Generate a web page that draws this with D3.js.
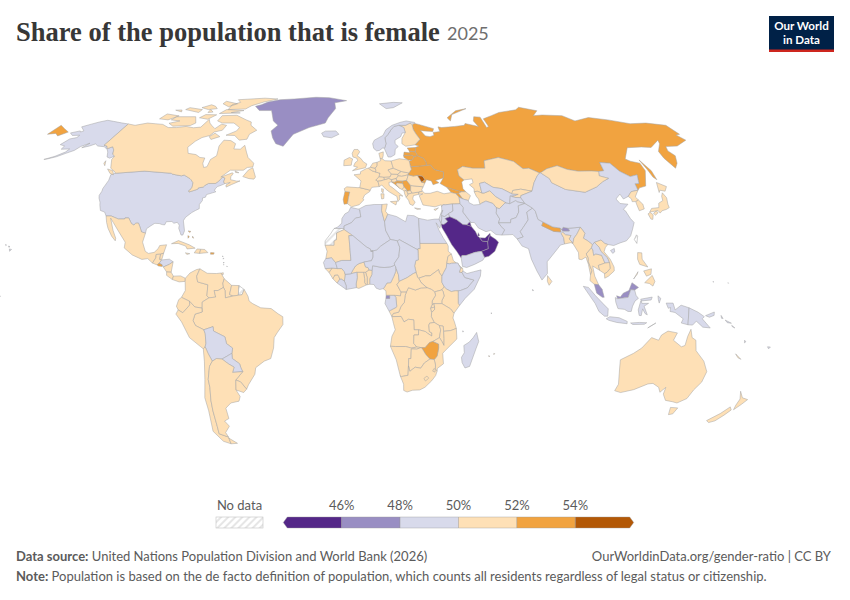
<!DOCTYPE html>
<html><head><meta charset="utf-8"><script src="https://cdn.jsdelivr.net/npm/d3@7"></script>
<style>html,body{margin:0;padding:0;background:#fff}svg{display:block}text{font-family:Lato,sans-serif}</style></head><body>
<svg id="c" width="850" height="600"></svg>
<script>
const titleText="Share of the population that is female", yearText="2025";
const legendBreaks=[46,48,50,52,54];
const legendColors=["#542788","#998ec3","#d8daeb","#fee0b6","#f1a340","#b35806"];
const shares={
Greenland:47.5,USA:49.6,Alaska:49.6,Hawaii:49.6,Canada:50.2,Mexico:51,Guatemala:51,Belize:50.2,Honduras:49.9,Salvador:52.8,Nicaragua:50.8,CostaRica:50.1,Panama:50.1,Cuba:50.2,Haiti:50.6,DR:50.1,Jamaica:50.5,PuertoRico:52.7,Bahamas:52.2,Trinidad:50.6,Antilles:49.8,Barbados:49.8,
Colombia:51,Venezuela:50.5,Guyana:50.2,Suriname:50.2,FrenchGuiana:null,Brazil:51,Ecuador:50.2,Peru:50.5,Bolivia:49.8,Paraguay:49.6,Chile:50.5,Argentina:50.8,Uruguay:51.5,
Iceland:49.2,Ireland:50.3,UK:50.6,Portugal:52.2,Spain:50.8,France:51.5,Belgium:50.5,Netherlands:50.2,Germany:50.6,Switzerland:50.2,Italy:51.2,Austria:50.7,Czechia:50.7,Slovakia:51,Hungary:51.9,Slovenia:50.1,Croatia:52.1,Bosnia:51,Serbia:52.1,Montenegro:50.8,Albania:50.7,Macedonia:50.1,Greece:51,Bulgaria:51.6,Romania:51.4,Moldova:54.4,Ukraine:53.5,Belarus:53.3,Poland:51.6,Lithuania:53,Latvia:53.5,Estonia:52.3,Finland:50.6,Sweden:49.9,Norway:49.7,Denmark:50.2,
Russia:53.6,Chukotka:53.6,NovayaZemlya:53.6,Sakhalin:53.6,Kazakhstan:51,Turkmenistan:50.7,Uzbekistan:49.9,Kyrgyzstan:50.2,Tajikistan:49.8,Georgia:52.9,Armenia:52.5,Azerbaijan:50.2,Turkey:50.1,Cyprus:50.1,
Israel:49.9,Jordan:48.8,Lebanon:49.8,Syria:49.9,Iraq:49.5,Iran:49.3,Kuwait:44,Saudi:42,Yemen:49.5,Oman:40,UAE:35,Qatar:30,
Afghanistan:49.8,Pakistan:49.3,India:48.6,Bangladesh:50.5,Nepal:53,Bhutan:47,China:48.9,Hainan:48.9,Mongolia:50.6,NKorea:51,SKorea:50.1,Honshu:51.2,Hokkaido:51.2,Kyushu:51.2,Shikoku:51.2,Taiwan:null,SriLanka:51.7,
Myanmar:51.5,Thailand:51.6,Laos:49.8,Vietnam:50.3,Cambodia:51,Malaya:47.5,MalayBorneo:47.5,IndoBorneo:49.6,Sumatra:49.6,Java:49.6,Sulawesi:49.6,Timor:49.6,Flores:49.6,Halmahera:49.6,Papua:49.6,PNG:49.3,NewBritain:49.3,Solomon:49.2,Luzon:50,Mindanao:50,Palawan:50,Visayas:50,
Australia:50.3,Tasmania:50.3,NZNorth:50.5,NZSouth:50.5,NewCaledonia:50,Fiji:49.5,Vanuatu:49.5,Kiritimati:49.8,Micronesia:49.8,Maldives:49.6,Seychelles:49,Comoros:49.8,Mauritius:50.5,Reunion:51,
Morocco:49.9,WesternSahara:null,Algeria:49.2,Tunisia:50.4,Libya:49.3,Egypt:49.5,Sudan:50.2,SouthSudan:50.2,Eritrea:50.3,Ethiopia:49.9,Djibouti:51,Somalia:49.9,Kenya:50.4,Uganda:50.8,Rwanda:51.2,Burundi:50.7,Tanzania:50.3,DRC:50.2,Congo:50.1,Gabon:49,EqGuinea:47,Cameroon:50.1,Nigeria:49.5,Benin:50.4,Togo:50.3,Ghana:50.3,Burkina:50.4,Ivory:49.2,Liberia:49.8,SierraLeone:50.2,Guinea:50.5,GuineaBissau:50.9,Senegal:49.6,Mauritania:50.8,Mali:49.9,Niger:49.8,Chad:49.9,CAR:50.2,Angola:50.7,Zambia:50.4,Malawi:51,Mozambique:51.3,Zimbabwe:52.6,Namibia:51,Botswana:51,SouthAfrica:51,Lesotho:50.6,Eswatini:51,Madagascar:49.9
};
const outlines={
Russia:[[30.8,69.8],[33,69.4],[41,67.5],[40,66.2],[35,66.5],[33,66.7],[35,64.3],[37.5,64],[40,64.6],[40,65.8],[44,66.2],[44,68.3],[46,68],[54,68.5],[60,69],[61,69.8],[68,68.5],[67,71],[69,73],[72.8,72.8],[72.5,68],[74,68.5],[74,72],[80.5,73.5],[87,75],[100,76.4],[104,77.7],[113,75.9],[107,73.5],[113,73.8],[125,73.5],[129,71],[140,72.6],[150,71.5],[160,69.7],[170,70],[180,69],[180,65],[177.5,64.7],[179,62.5],[170,60],[163.5,59.8],[162,58],[163,56],[160,53],[156.8,51],[155.7,55],[156.7,57.8],[162,61],[163.5,62.5],[155,59.4],[150,59.6],[142,59.3],[135.3,54.7],[137,53.8],[141,53],[140.5,50],[135.5,44],[132,43.3],[130.6,42.4],[131,44.9],[133,45],[135,48.4],[131,47.7],[127.5,49.8],[125.7,53],[120.8,53.3],[119.8,50],[117,49.7],[113.5,49.9],[107,49.8],[102,50.5],[98,52],[92,50.8],[87.8,49.2],[87.3,49.1],[83,51],[80,50.8],[77,53.7],[70,55.3],[62,54],[61,51],[55,51],[50,51.7],[47,50.4],[47,48],[49,46.4],[47.6,45.6],[47.5,43],[48.5,41.8],[46.5,41.8],[43.5,42.5],[40,43.4],[37,45],[39,47.1],[39.8,49.5],[35.5,50.4],[34,52.3],[31.8,52.1],[32,53.5],[31,55],[28.2,56],[27.5,57.6],[28,59.4],[30,60],[28,60.5],[31.5,62.9],[30,65],[29,67],[29,69.2]],
Chukotka:[[-180,69],[-175,67.5],[-170,66],[-173,64.3],[-176,65.4],[-180,65]],
NovayaZemlya:[[53,71],[56,74],[68,77],[60,75.9],[52,72.5]],
Sakhalin:[[142,54.3],[143.5,50],[143,46.5],[142,47.5],[142,50.5]],
USA:[[-124.7,48.4],[-123,49],[-95.2,49],[-94.6,48.7],[-92,48.3],[-89.6,48],[-88.4,48.3],[-84.8,46.9],[-84.1,46.5],[-82.5,45.3],[-82.1,43.6],[-82.5,42.6],[-83.1,42.2],[-82.7,41.7],[-79,42.8],[-79,43.3],[-76.8,43.6],[-76.3,44.2],[-74.9,45],[-71.5,45],[-70.3,45.9],[-69.2,47.45],[-68.3,47.3],[-67.8,47.1],[-67.8,45.7],[-67,44.9],[-68.5,44.3],[-70,43.8],[-70.7,43],[-70.9,42.3],[-70,41.8],[-71.4,41.4],[-74,40.7],[-74.1,39.7],[-75.4,39.4],[-75.1,38.4],[-76,36.9],[-75.5,35.3],[-77,34.6],[-78.5,33.8],[-80.8,32],[-81.4,30.7],[-80.5,28.3],[-80,26.8],[-80.4,25.2],[-81.2,25.2],[-81.8,26.2],[-82.8,27.8],[-82.8,29],[-84,30.1],[-85.4,29.7],[-86.5,30.4],[-89,30.3],[-89.4,29.1],[-90.5,29.2],[-92,29.6],[-94,29.7],[-95.5,28.8],[-97.2,27.6],[-97.2,25.95],[-99.1,26.4],[-100.3,28.3],[-101.4,29.8],[-102.7,29.7],[-103.2,29],[-104.5,29.6],[-106.5,31.75],[-108.2,31.75],[-108.2,31.33],[-111,31.33],[-114.8,32.5],[-117.1,32.5],[-118.4,34],[-120.6,34.6],[-121.9,36.6],[-122.5,37.8],[-123.8,39.3],[-124.4,40.4],[-124.2,42],[-124.5,43],[-124,46.2]],
Alaska:[[-141,69.6],[-141,60.3],[-139,60],[-137.5,58.9],[-135.5,59.7],[-133.4,58.4],[-131.8,56.6],[-130,55.9],[-131.5,55],[-133.5,55.5],[-135.5,57.5],[-137,58.5],[-140,59.7],[-144,60],[-146.5,60.9],[-148.5,60],[-151.7,59.3],[-150,61.2],[-153,59.8],[-154.2,58.2],[-157,57],[-160,55.6],[-163.5,54.7],[-165,54.5],[-161,55.8],[-158,57.5],[-157.5,58.8],[-161.9,58.7],[-162,60],[-165.3,60.6],[-164,63],[-161,63.6],[-161,64.6],[-165,64.5],[-168,65.6],[-164,66.5],[-163,66],[-161.9,66.5],[-166.5,68.3],[-163,69.5],[-160,70.5],[-156.6,71.3],[-152,70.8],[-146,70.1]],
Hawaii:[[[-156,19.9],[-155,19.7],[-155.7,19]],[[-158.2,21.6],[-157.7,21.4],[-158,21.2]],[[-156.7,21],[-156,20.8],[-156.4,20.5]]],
Canada:[
[[-141,69.6],[-136,69],[-130,70],[-125,69.7],[-120,69.4],[-115,68],[-110,68],[-105,68.5],[-100,67.9],[-96,68.2],[-95,71.8],[-92.5,70],[-90,68.8],[-87,67.5],[-85,69.5],[-81.5,69],[-82,66.8],[-86,66],[-87,64.5],[-90.7,63.6],[-93,62],[-94.8,59.5],[-92.5,57],[-88,56.5],[-85,55.3],[-82.3,55.1],[-82,53],[-80.5,51.3],[-79,51.6],[-79,54.5],[-76.8,56],[-77.5,58],[-78.3,60],[-77.5,62.5],[-73.5,62.3],[-70,61],[-69.5,58.8],[-66,58.7],[-64.5,60.3],[-62,57.5],[-60,55.3],[-56,53],[-55.8,51.5],[-58.5,51.3],[-60,50.2],[-66.5,50.2],[-70,47.5],[-65,49.2],[-64.4,48.7],[-65.2,47.8],[-64.8,46.5],[-61.5,45.9],[-60,46],[-63.5,44.6],[-65.8,43.6],[-66.2,44.4],[-64.5,45.4],[-67,44.9],[-67.8,45.7],[-67.8,47.1],[-68.3,47.3],[-69.2,47.45],[-70.3,45.9],[-71.5,45],[-74.9,45],[-76.3,44.2],[-76.8,43.6],[-79,43.3],[-79,42.8],[-82.7,41.7],[-83.1,42.2],[-82.5,42.6],[-82.1,43.6],[-82.5,45.3],[-84.1,46.5],[-84.8,46.9],[-88.4,48.3],[-89.6,48],[-92,48.3],[-94.6,48.7],[-95.2,49],[-123,49],[-123.5,49.5],[-127,51],[-130,54.5],[-130,55.9],[-131.8,56.6],[-133.4,58.4],[-135.5,59.7],[-137.5,58.9],[-139,60],[-141,60.3]],
[[-80,73.7],[-72,71.5],[-68,70.5],[-67,69],[-62,66.8],[-65,65],[-65,62.9],[-69,62.5],[-73,64.5],[-78,64.6],[-73.5,66.5],[-73,68],[-78,70],[-85,70],[-89,71],[-89,73.5]],
[[-117,73],[-105,73],[-101,70],[-103,68.9],[-113,68.6],[-117,69.9],[-112,71],[-118,71.5]],
[[-125,74.3],[-116,73.4],[-120,71.5],[-126,72]],
[[-90,76.5],[-78,76],[-85,75],[-79,74.8],[-92,74.5]],
[[-90,82],[-72,83],[-62,82.5],[-70,80.5],[-76,78.5],[-78,76.8],[-89,76.5],[-90,79],[-86,80.3]],
[[-97,81],[-87,79.5],[-91,78],[-97,79.5]],
[[-117,76.5],[-106,75],[-106,76.5],[-116,77.5]],
[[-100,74],[-93,73.9],[-96,71.8],[-102,72.5]],
[[-85,65.5],[-81,64],[-85,62.8],[-87,64]],
[[-55.7,51.2],[-53,47.5],[-53.5,46.7],[-56,46.9],[-59.3,47.7],[-57.5,50.3]],
[[-128.3,50.7],[-125,50],[-123.4,48.4],[-125.5,48.9]],
[[-132.5,54],[-131.7,53],[-131,52],[-132.5,53]],
[[-64,49.9],[-61.8,49.2],[-63.5,49.3]],
[[-123,76.2],[-117.5,75.3],[-119,76.3]],
[[-104,79],[-100,78.2],[-97,77],[-102,76.5],[-108,77.5]],
[[-100.5,76.5],[-97,75.2],[-100,75]]],
Greenland:[[-73,78.2],[-68,76],[-60,76],[-55,71],[-51,69],[-53.5,66.5],[-51,63.5],[-48,61],[-43.5,59.9],[-40,65],[-32,68],[-23,70],[-22,72.5],[-20,75],[-18.5,77],[-20,80],[-12,81.4],[-25,83.3],[-35,83.6],[-50,82.5],[-60,82],[-67,80.5],[-70,79]],
Mexico:[[-117.1,32.5],[-114.8,32.5],[-111,31.33],[-108.2,31.33],[-108.2,31.75],[-106.5,31.75],[-104.5,29.6],[-103.2,29],[-102.7,29.7],[-101.4,29.8],[-100.3,28.3],[-99.1,26.4],[-97.2,25.95],[-97.8,22.5],[-96,19],[-94.5,18.2],[-92,18.6],[-90.5,20],[-90,21.2],[-87,21.5],[-87.8,18.3],[-89.1,17.9],[-91,17.8],[-91,16.5],[-92.2,14.5],[-94.5,16.2],[-97,15.9],[-101.5,17.6],[-105.5,20.3],[-105.5,22.5],[-109.5,26.7],[-112.8,30],[-114.7,31.7],[-112,27],[-110,24],[-110,23],[-112,24.8],[-114.5,27.8],[-115.8,30]],
Guatemala:[[-92.2,14.5],[-91,16.5],[-91,17.8],[-89.1,17.9],[-89.2,15.9],[-88.3,15.7],[-89.3,14.4],[-90.1,13.8]],
Belize:[[-89.1,17.9],[-87.8,18.3],[-88.3,15.9],[-89.2,15.9]],
Honduras:[[-89.3,14.4],[-88.3,15.7],[-85,16],[-83.2,15],[-84.8,14],[-87.3,13],[-88,13.9]],
Salvador:[[-90.1,13.8],[-89.3,14.4],[-88,13.9],[-87.8,13.2],[-89.5,13.4]],
Nicaragua:[[-87.3,13],[-84.8,14],[-83.2,15],[-83.7,11],[-85.7,11.1]],
CostaRica:[[-85.7,11.1],[-83.7,11],[-82.6,9.5],[-83,8.2],[-85.6,9.8]],
Panama:[[-82.6,9.5],[-79.5,9.6],[-77.4,8.7],[-77.4,7.5],[-80,7.3],[-83,8.2]],
Cuba:[[-84.9,21.9],[-82,23.1],[-77,21.5],[-74.2,20.2],[-77.7,19.9],[-78.5,21],[-82,22]],
Haiti:[[-74.4,18.4],[-72,18.2],[-71.7,19.8],[-73.3,19.9]],
DR:[[-71.7,19.8],[-72,18.2],[-68.4,18.5],[-69.9,19.7]],
Jamaica:[[-78.3,18.4],[-76.3,18.1],[-77.5,17.8]],
PuertoRico:[[-67.2,18.5],[-65.6,18.4],[-65.8,17.9],[-67.2,17.9]],
Bahamas:[[[-78.4,26.8],[-77.1,26.6],[-77.5,26.2]],[[-78.1,25],[-77.4,24.6],[-77.9,24]],[[-76,24.8],[-75.4,24],[-75.9,24.2]]],
Trinidad:[[-61.9,10.7],[-61,10.8],[-61,10.1],[-61.9,10.1]],
Antilles:[[[-61.9,17.2],[-61.6,17.2],[-61.7,16.9]],[[-61.5,16.4],[-61.2,16.3],[-61.4,16]],[[-61.1,14.9],[-60.9,14.6],[-61.2,14.5]],[[-61.1,14],[-60.9,13.9],[-61,13.7]]],
Barbados:[[-59.7,13.3],[-59.4,13.2],[-59.5,13]],
Colombia:[[-77.4,8.7],[-75.5,10.7],[-72.8,12],[-71.3,12.3],[-72.5,9.5],[-72,7.3],[-67.5,6.2],[-67.8,2],[-66.9,1.2],[-69.8,-0.4],[-69.9,-4.2],[-70,-2.7],[-73,-2.3],[-75.3,-0.1],[-78.8,1.4],[-77.2,4],[-77.4,7.5]],
Venezuela:[[-71.3,12.3],[-68,10.6],[-64,10.5],[-62,10.7],[-60.5,8.5],[-61,6.8],[-60.7,5.2],[-63,4],[-64.7,4],[-64,1.5],[-66.9,1.2],[-67.8,2],[-67.5,6.2],[-72,7.3],[-72.5,9.5]],
Guyana:[[-60.5,8.5],[-57.2,6],[-58,2.5],[-56.5,1.9],[-59.8,1.2],[-60,4],[-60.7,5.2],[-61,6.8]],
Suriname:[[-57.2,6],[-54,5.9],[-54.2,2.2],[-56.5,1.9],[-58,2.5]],
FrenchGuiana:[[-54,5.9],[-51.7,4.4],[-52.6,2.4],[-54.2,2.2]],
Brazil:[[-51.7,4.4],[-50,1.8],[-49.5,0],[-48,-1],[-44.5,-2.6],[-40,-2.9],[-37,-4.9],[-35,-6],[-35,-9],[-37.5,-12],[-39,-14],[-39.5,-18],[-41,-22],[-44,-23],[-48,-25.5],[-48.7,-28],[-52.2,-32],[-53.4,-33.7],[-55.6,-30.9],[-57.6,-30.2],[-54,-27],[-54.6,-25.6],[-55,-24],[-58,-22],[-58,-20],[-57.5,-18],[-60,-16.3],[-60.5,-13.7],[-65.3,-11.5],[-65.4,-9.8],[-69.5,-11],[-73,-9.4],[-74,-7.5],[-73,-5],[-69.9,-4.2],[-69.8,-0.4],[-66.9,1.2],[-64,1.5],[-64.7,4],[-63,4],[-60.7,5.2],[-60,4],[-59.8,1.2],[-56.5,1.9],[-54.2,2.2],[-52.6,2.4]],
Ecuador:[[-78.8,1.4],[-75.3,-0.1],[-75.2,-1.5],[-78.3,-4.5],[-80.3,-3.4],[-81,-2],[-80,0.5]],
Peru:[[-80.3,-3.4],[-78.3,-4.5],[-75.2,-1.5],[-75.3,-0.1],[-73,-2.3],[-70,-2.7],[-69.9,-4.2],[-73,-5],[-74,-7.5],[-73,-9.4],[-69.5,-11],[-69,-12.5],[-69,-16.2],[-69.5,-17.5],[-70.4,-18.3],[-76,-14],[-79,-8],[-81.3,-5]],
Bolivia:[[-69.5,-11],[-65.4,-9.8],[-65.3,-11.5],[-60.5,-13.7],[-60,-16.3],[-57.5,-18],[-58,-20],[-62.6,-22.2],[-65,-22],[-67,-23],[-68.5,-20],[-69.5,-17.5],[-69,-16.2],[-69,-12.5]],
Paraguay:[[-58,-20],[-58,-22],[-55,-24],[-54.6,-25.6],[-54,-27],[-58.6,-27.3],[-57.6,-25.3],[-60,-24],[-62.6,-22.2]],
Chile:[[-70.4,-18.3],[-69.5,-17.5],[-68.5,-20],[-67,-23],[-68.5,-25],[-70,-30],[-70,-33],[-71,-38],[-71.5,-42],[-72,-48],[-72.5,-51],[-68.5,-52.3],[-68.6,-55],[-72,-54],[-75,-50],[-73.5,-42],[-73.5,-37],[-71.5,-30],[-70.5,-23]],
Argentina:[[[-67,-23],[-65,-22],[-62.6,-22.2],[-60,-24],[-57.6,-25.3],[-58.6,-27.3],[-54,-27],[-57.6,-30.2],[-58.3,-34],[-57,-36.5],[-58,-38.3],[-62,-39],[-65,-41],[-65,-45],[-67.5,-46],[-66,-48],[-69,-50.5],[-68.5,-52.3],[-72.5,-51],[-72,-48],[-71.5,-42],[-71,-38],[-70,-33],[-70,-30],[-68.5,-25]],[[-68.6,-52.7],[-65.2,-54.8],[-68.6,-55]]],
Uruguay:[[-58.3,-34],[-57.6,-30.2],[-55.6,-30.9],[-53.4,-33.7],[-55,-35]],
Iceland:[[-24,65.5],[-22,66.4],[-16,66.5],[-14,65],[-18,63.5],[-22.5,64]],
Ireland:[[-10,52],[-6.2,52.2],[-6,53.5],[-5.6,54.7],[-7.3,55.3],[-10,54.2]],
UK:[[-5,58.6],[-3,58.6],[-2,57.6],[-3.3,56],[-1.5,55],[0,53.5],[1.7,52.7],[1,51.2],[-5.5,50],[-3,51.4],[-5,51.8],[-4.3,53.2],[-3,54],[-3.5,55],[-5.5,55.5],[-6,57]],
Portugal:[[-8.8,41.9],[-6.5,41.7],[-7,39.7],[-7.4,37.2],[-9,37],[-9.5,38.8]],
Spain:[[-8.8,41.9],[-9.2,43],[-8,43.7],[-3,43.4],[-1.8,43.4],[3.2,42.4],[3,41.9],[0.5,40.5],[-0.3,39],[0.2,38.7],[-2,36.8],[-5.5,36],[-7.4,37.2],[-7,39.7],[-6.5,41.7]],
France:[[[-1.8,43.4],[-1.2,46],[-4.7,48.4],[-1.5,48.7],[-1.5,49.6],[1.6,50.9],[2.5,51],[4.2,50],[6,49.5],[8.2,49],[7.6,47.6],[6,46.3],[7,45.9],[7.6,43.8],[4,43.5],[3.2,42.4]],[[8.6,43],[9.5,42.8],[9.3,41.4],[8.7,41.7]]],
Belgium:[[2.5,51],[3.4,51.4],[5.9,51],[6.2,50],[6,49.5],[4.2,50]],
Netherlands:[[3.4,51.4],[4.7,53],[7,53.4],[6.9,52],[5.9,51]],
Germany:[[5.9,51],[6.9,52],[7,53.4],[8.8,54],[8.6,54.9],[10,54.6],[11,54],[14.2,53.9],[14.7,52],[15,51],[12.2,50.3],[13.8,48.7],[13,47.5],[10,47.4],[7.6,47.6],[8.2,49],[6,49.5],[6.2,50]],
Switzerland:[[6,46.3],[7.6,47.6],[10,47.4],[10.3,46.5],[8.4,46],[7,45.9]],
Italy:[[[7,45.9],[8.4,46],[10.3,46.5],[12.3,47],[13.7,46.5],[13.7,45.7],[12.3,45.4],[12.4,44.2],[13.7,43.5],[16,41.9],[18.5,40.1],[16.9,40.4],[17,39],[16,38],[15.7,40],[12.3,41.7],[10.5,42.9],[8.8,44.4],[7.6,43.8]],[[12.5,38],[15.6,38.2],[15,36.7]],[[8.2,41],[9.7,41],[9.5,39.2],[8.5,39]]],
Austria:[[10,47.4],[13,47.5],[13.8,48.7],[16.9,48.6],[17.1,48],[16,46.9],[13.7,46.5],[12.3,47],[10.3,46.5]],
Czechia:[[12.2,50.3],[15,51],[18.8,49.7],[16.9,48.6],[13.8,48.7]],
Slovakia:[[16.9,48.6],[18.8,49.7],[22.5,49.1],[22.1,48.4],[18.8,47.8],[17.1,48]],
Hungary:[[17.1,48],[18.8,47.8],[22.1,48.4],[21,46.2],[18.8,45.9],[16.2,46],[16,46.9]],
Slovenia:[[13.7,46.5],[16,46.9],[16.2,46],[15.2,45.5],[13.7,45.5]],
Croatia:[[13.7,45.5],[15.2,45.5],[16.2,46],[18.8,45.9],[19,45],[16,45.2],[15.8,44.5],[17.5,43],[14.8,44.9]],
Bosnia:[[16,45.2],[19,45],[19.5,43.6],[18.4,42.7],[17.5,43],[15.8,44.5]],
Serbia:[[18.8,45.9],[21,46.2],[22.7,44.2],[22.4,42.3],[20.6,42],[20.6,42.5],[19.5,43.6],[19,45]],
Montenegro:[[18.4,42.7],[19.5,43.6],[20.6,42.5],[19.3,42]],
Albania:[[19.3,42],[20.6,42.5],[20.6,42],[21,40.9],[21,40.6],[20,39.7],[19.4,41]],
Macedonia:[[20.6,42],[22.4,42.3],[23,41.3],[21,40.9]],
Greece:[[[20,39.7],[21,40.6],[21,40.9],[23,41.3],[26.3,41.7],[26,40.8],[23.5,40.3],[23,39],[24,37.8],[22.9,36.5],[21.5,37],[21,38.5]],[[23.5,35.6],[26.3,35.2],[24.7,35]]],
Bulgaria:[[22.7,44.2],[28.6,43.7],[27.7,42.5],[28,42],[26.3,41.7],[23,41.3],[22.4,42.3]],
Romania:[[21,46.2],[22.1,48.4],[24.5,47.9],[26.6,48.2],[28.2,45.5],[29.7,45.2],[28.6,43.7],[22.7,44.2]],
Moldova:[[26.6,48.2],[29,47.9],[30,46.5],[28.2,45.5]],
Ukraine:[[22.1,48.4],[22.5,49.1],[24,50.6],[23.7,51.6],[31.8,52.1],[34,52.3],[35.5,50.4],[39.8,49.5],[39,47.1],[35,46.2],[36.5,45.3],[33.5,44.5],[33,46],[30.7,46.5],[29.7,45.2],[28.2,45.5],[30,46.5],[29,47.9],[26.6,48.2],[24.5,47.9]],
Belarus:[[23.7,51.6],[31.8,52.1],[32,53.5],[31,55],[28.2,56],[26.5,55.7],[25,54.3],[23.5,53.9]],
Poland:[[14.2,53.9],[18.5,54.8],[23,54.3],[23.5,53.9],[23.7,51.6],[24,50.6],[22.5,49.1],[18.8,49.7],[15,51],[14.7,52]],
Lithuania:[[21,55.3],[21,56.1],[25,56.3],[26.5,55.7],[25,54.3],[23,54.3]],
Latvia:[[21,56.1],[21.5,57.5],[24.4,57.2],[24.4,57.9],[27.5,57.6],[28.2,56],[26.5,55.7],[25,56.3]],
Estonia:[[24.4,57.9],[23.5,59.2],[28,59.4],[27.5,57.6]],
Finland:[[21,61],[22.9,59.9],[28,60.5],[31.5,62.9],[30,65],[29,67],[29,69.2],[28,70],[25,69],[21,69],[23.7,68],[24,65.8],[21.5,63.2]],
Sweden:[[11.2,59],[12.8,55.5],[14.3,55.5],[16.5,56.5],[17,58.7],[18.8,59.8],[17.3,61],[17.5,62.5],[21,64],[22,65.5],[24,65.8],[23.7,68],[21,69],[18,68.5],[16,67],[14,65],[12,63.5],[12.3,61],[11.8,59.9]],
Norway:[[[5,61],[5.5,59],[7,58],[8.5,58.2],[10.5,59.3],[11.2,59],[11.8,59.9],[12.3,61],[12,63.5],[14,65],[16,67],[18,68.5],[21,69],[25,69],[28,70],[30.8,69.8],[31,70.3],[26,71],[22,70.3],[17,69],[13,67],[11,64.5],[6,62.5]],[[11,79.5],[21,80.3],[27,80],[20,77.5],[15,77]]],
Denmark:[[8.1,57],[10.5,57.6],[10.3,56],[9.8,54.9],[8.6,54.9]],
Kazakhstan:[[47,50.4],[50,51.7],[55,51],[61,51],[62,54],[70,55.3],[77,53.7],[80,50.8],[83,51],[87.3,49.1],[85.5,48],[82.5,45.3],[80,42],[75,42.8],[71,42.3],[70,41],[66,43],[62,43.5],[58.6,45.5],[56,45],[56,41.3],[54,42],[52.5,41.8],[52.8,43],[51,44.5],[53,45.3],[53,46.8],[49,46.4],[47,48]],
Turkmenistan:[[52.5,41.8],[54,42],[56,41.3],[57,41.3],[60,42.2],[62,40],[66.5,37.4],[65.7,37.5],[62.5,35.3],[61.2,35.6],[60,37.3],[57,38.2],[54.8,37.4],[53.9,37],[53.8,39],[53,40]],
Uzbekistan:[[56,45],[58.6,45.5],[62,43.5],[66,43],[70,41],[73,40.8],[71,40.2],[69,40.2],[67.8,37.2],[66.5,37.4],[62,40],[60,42.2],[57,41.3],[56,41.3]],
Kyrgyzstan:[[71,42.3],[75,42.8],[80,42],[74,40.3],[73.7,39.5],[71,39.6],[69.5,40],[71,40.2],[73,40.8],[70,41]],
Tajikistan:[[67.8,37.2],[71,38.4],[71.5,37.9],[74.9,37.3],[73.7,39.5],[71,39.6],[69.5,40],[69,40.2]],
Georgia:[[40,43.4],[43.5,42.5],[46.5,41.8],[45,41.2],[43.5,41.1],[41.5,41.5]],
Armenia:[[43.5,41.1],[45,41.2],[46.5,39],[44.8,39.7]],
Azerbaijan:[[45,41.2],[46.5,41.8],[48.5,41.8],[50.3,40.3],[48.9,38.4],[46.5,39]],
Turkey:[[26.2,40.3],[27.5,36.7],[30.5,36.3],[33,36],[36,36.8],[36,36],[36.7,36.8],[38,36.8],[41.2,37.1],[42.4,37.1],[44.8,37.2],[44.8,39.7],[43.5,41.1],[41.5,41.5],[38,41],[35,42],[31.5,41.2],[29,41.2],[28,42],[26.3,41.7],[26,40.8],[28,41]],
Cyprus:[[32.3,35],[34.5,35.6],[33,34.6]],
Israel:[[34.9,29.4],[35.5,31.5],[35.6,32.7],[35.1,33.1],[34.2,31.3]],
Jordan:[[34.9,29.4],[36.1,29.2],[37.5,30],[38,30.5],[37,31.5],[39.2,32.2],[38.8,33.4],[36.8,32.3],[35.6,32.7],[35.5,31.5]],
Lebanon:[[35.1,33.1],[35.6,33.3],[36.4,34.6],[35.9,34.6]],
Syria:[[35.9,34.6],[36.4,34.6],[35.6,33.3],[35.6,32.7],[36.8,32.3],[38.8,33.4],[41,34.4],[41.2,37.1],[38,36.8],[36.7,36.8],[36,36]],
Iraq:[[38.8,33.4],[39.2,32.2],[42.1,31.1],[44.7,29.2],[46.5,29.1],[47.7,30.1],[48.5,30],[47.7,31],[45.5,34],[46,35.7],[44.8,37.2],[42.4,37.1],[41.2,37.1],[41,34.4]],
Kuwait:[[46.5,29.1],[48.4,28.5],[48.1,29.9],[47.7,30.1]],
Saudi:[[34.9,29.4],[36.1,29.2],[37.5,30],[38,30.5],[37,31.5],[39.2,32.2],[42.1,31.1],[44.7,29.2],[46.5,29.1],[48.4,28.5],[50,26.6],[50.8,24.8],[51.6,24.2],[52.6,22.9],[55,22.7],[55,20],[52,19],[49,18.6],[45,17.4],[43.2,17.4],[42.8,16.4],[41,19],[39,21.5],[37,25],[35.2,28]],
Yemen:[[42.8,16.4],[43.2,13.2],[45,12.8],[48.5,14],[52.2,15.6],[53.1,16.7],[52,19],[49,18.6],[45,17.4],[43.2,17.4]],
Oman:[[52,19],[53.1,16.7],[55,17.1],[57.8,19],[59.8,22.5],[58.6,23.6],[56.4,24.9],[55.9,24.9],[55,22.7],[55,20]],
UAE:[[51.6,24.2],[54,24.1],[56.4,25.9],[56.4,24.9],[55.9,24.9],[55,22.7],[52.6,22.9]],
Qatar:[[50.8,24.8],[51.2,26.1],[51.6,25]],
Iran:[[44.8,39.7],[44.8,37.2],[46,35.7],[45.5,34],[47.7,31],[48.5,30],[50,30],[51.5,27.9],[54.7,26.5],[56.9,27],[59,25.4],[61.6,25.2],[63.2,27.2],[61.8,28.5],[60.9,29.9],[61.7,31.4],[60.6,33.6],[60.9,34.4],[61.2,35.6],[60,37.3],[57,38.2],[54.8,37.4],[53.9,36.9],[51,36.7],[49,37.6],[48.9,38.4],[46.5,39]],
Afghanistan:[[60.9,29.9],[66.3,29.9],[66.7,31.2],[69.3,31.9],[71,34],[71.5,36.4],[74.9,37.3],[71.5,37.9],[71,38.4],[67.8,37.2],[66.5,37.4],[65.7,37.5],[62.5,35.3],[61.2,35.6],[60.9,34.4],[60.6,33.6],[61.7,31.4]],
Pakistan:[[61.6,25.2],[66.5,25.4],[68.2,23.7],[71,24.5],[70,26.5],[71.5,28],[74.5,31],[74.7,34],[77.8,35.5],[74.9,37.3],[71.5,36.4],[71,34],[69.3,31.9],[66.7,31.2],[66.3,29.9],[60.9,29.9],[61.8,28.5],[63.2,27.2]],
India:[[68.2,23.7],[70,21],[72.7,20],[73.5,16],[75.5,11.5],[77.5,8],[80,10.5],[80.3,15],[85,19.5],[87,21.4],[88.9,21.8],[88.9,24.2],[88.1,25.8],[88.9,26.3],[89.9,25.3],[92.3,25],[91.2,23.7],[92,22.9],[92.6,22],[93.4,24],[95,25.5],[97.3,28.2],[91.7,27.8],[92,26.8],[89,26.8],[88.8,27.3],[88.1,27.9],[88.1,26.4],[85,26.6],[80.1,28.8],[81,30.2],[79,31.2],[78.7,34.3],[77.8,35.5],[74.7,34],[74.5,31],[71.5,28],[70,26.5],[71,24.5]],
Bangladesh:[[88.9,21.8],[91.8,22.3],[92.6,22],[92,22.9],[91.2,23.7],[92.3,25],[89.9,25.3],[88.9,26.3],[88.1,25.8],[88.9,24.2]],
Nepal:[[80.1,28.8],[85,26.6],[88.1,26.4],[88.1,27.9],[85,28.3],[81,30.2]],
Bhutan:[[89,26.8],[92,26.8],[91.7,27.8],[89.5,28.2],[88.8,27.3]],
China:[[73.7,39.5],[74.9,37.3],[77.8,35.5],[78.7,34.3],[79,31.2],[81,30.2],[85,28.3],[88.1,27.9],[88.8,27.3],[89.5,28.2],[91.7,27.8],[97.3,28.2],[98.7,25.9],[97.6,24],[99.5,22.9],[101.2,21.5],[102.2,22.4],[105.3,23.3],[106.7,22],[108,21.6],[110.5,21.2],[113.5,22.2],[116.5,23],[118.8,24.9],[120.5,27.5],[122,30],[121,31.5],[120,34.5],[119.3,35],[122.5,37],[119,37.3],[118,39],[121,40.9],[121.5,39],[124.3,40],[126.9,41.8],[128,42],[130.6,42.4],[131,44.9],[133,45],[135,48.4],[131,47.7],[127.5,49.8],[125.7,53],[120.8,53.3],[119.8,50],[117,49.7],[116,48],[119.8,47],[116,45.7],[111.8,43.7],[105,41.6],[96.3,42.7],[91,45.3],[90.9,46.9],[87.8,49.2],[87.3,49.1],[85.5,48],[82.5,45.3],[80,42],[74,40.3]],
Hainan:[[108.7,19.3],[110.5,20.1],[110.5,18.8],[109.5,18.2]],
Mongolia:[[87.8,49.2],[92,50.8],[98,52],[102,50.5],[107,49.8],[113.5,49.9],[117,49.7],[116,48],[119.8,47],[116,45.7],[111.8,43.7],[105,41.6],[96.3,42.7],[91,45.3],[90.9,46.9]],
NKorea:[[124.3,40],[125.3,39],[125,38],[126.7,38],[128.3,38.6],[127.5,39.8],[130.6,42.4],[128,42],[126.9,41.8]],
SKorea:[[126.7,38],[126.5,37],[126.4,34.5],[129,35.2],[129.4,37],[128.3,38.6]],
Honshu:[[130.9,34],[132.5,35.4],[136,35.7],[137,37.4],[139.5,38.4],[140,40],[141.4,41.4],[142,39.5],[141,37],[140.8,35.7],[139,35],[136.8,34.5],[135.5,33.6],[135,34.6],[132.5,34.2]],
Hokkaido:[[140,41.5],[141.8,45.4],[145.3,43.8],[143.2,42],[141,42.4]],
Kyushu:[[129.8,33.3],[131,33.9],[132,33],[131,31.2],[130.2,31.3]],
Shikoku:[[132.4,33.5],[134,34.4],[134.7,33.8],[133,32.8]],
Taiwan:[[120.1,23.5],[121.5,25.3],[121.9,24.8],[120.9,22]],
SriLanka:[[80,9.7],[81.8,7.5],[80.5,6],[79.8,7.5]],
Myanmar:[[92.6,22],[94.5,18.5],[94.3,16],[95.5,15.8],[97.5,16.8],[98.2,14],[98.7,10],[99.5,11.5],[98.3,15],[98.5,16.5],[97.8,18],[100.5,20.3],[101.2,21.5],[99.5,22.9],[97.6,24],[98.7,25.9],[97.3,28.2],[95,25.5],[93.4,24]],
Thailand:[[98.3,7.8],[100.1,6.4],[102,6.2],[100.5,9.5],[100,13.4],[102.9,11.7],[102.5,13.6],[105.5,14.5],[104.5,17.5],[102,18],[101,17.5],[101,19.5],[100.5,20.3],[97.8,18],[98.5,16.5],[98.3,15],[99.5,11.5],[98.7,10]],
Laos:[[100.5,20.3],[101,19.5],[101,17.5],[102,18],[104.5,17.5],[105.5,14.5],[107.5,14.7],[107,16.5],[104.5,19],[104,20.5],[102.2,22.4],[101.2,21.5]],
Vietnam:[[102.2,22.4],[104,20.5],[104.5,19],[107,16.5],[107.5,14.7],[107.5,12.5],[106,11],[104.8,10.5],[104.8,8.7],[106.5,9.5],[109.2,11.5],[109.3,13],[108,16],[105.8,18.8],[106.7,20.5],[108,21.6],[106.7,22],[105.3,23.3]],
Cambodia:[[102.9,11.7],[104.8,10.5],[106,11],[107.5,12.5],[107.5,14.7],[105.5,14.5],[102.5,13.6]],
Malaya:[[100.1,6.4],[102,6.2],[103.4,4.5],[104.2,1.4],[103.4,1.4],[101,3]],
MalayBorneo:[[109.6,2],[111.2,1.5],[112.5,3],[115,4],[116.5,7],[119.2,5.2],[117.5,4.2],[115.8,4.3],[114.6,1.4],[113,1.2],[110,0.9]],
IndoBorneo:[[109,1.3],[110,0.9],[113,1.2],[114.6,1.4],[115.8,4.3],[117.5,4.2],[118,2.2],[119,1],[117.5,0],[116.5,-2],[116,-4],[114.6,-4],[113,-3.2],[110.2,-2.9],[109.2,-0.5]],
Sumatra:[[95.3,5.6],[97.5,5.2],[100.5,2],[103.7,-1],[106,-3],[105.9,-5.8],[104.5,-5.8],[102,-4],[100.3,-1],[98,2]],
Java:[[105.3,-6.8],[106.8,-6],[110.9,-6.4],[114.5,-7.8],[114.5,-8.7],[110,-8.2],[106.5,-7.4]],
Sulawesi:[[119.5,-5.5],[120.4,-5.6],[120.9,-3],[122,-4.8],[123,-5.3],[121.5,-2],[123.4,-0.9],[120.5,-0.9],[120,0.7],[125,1.5],[124.5,0.4],[120,0],[119,-3.4]],
Timor:[[123.6,-10.3],[127,-8.4],[125,-9.5]],
Flores:[[116,-8.4],[119.8,-8.2],[123,-8.3],[122,-8.9],[117,-9]],
Halmahera:[[127.5,2],[128.7,1],[128,-0.8],[127.6,0.5]],
Papua:[[131,-0.8],[134,-0.8],[135,-3.4],[137.5,-1.6],[141,-2.6],[141,-9.1],[138,-8.4],[138.7,-6.8],[135,-4.4],[132.8,-4],[133,-2.5],[132,-2.8]],
PNG:[[141,-2.6],[145,-4.3],[147.8,-6],[147,-6.8],[150.8,-10.3],[147.5,-10],[144.5,-7.7],[143,-9.2],[141,-9.1]],
NewBritain:[[148.3,-5.6],[152,-4.2],[152,-5.5],[150,-6.2]],
Solomon:[[[155,-5.5],[156,-6.7],[155.3,-6.6]],[[157,-7.3],[159.8,-8.5],[158,-8.3]],[[160,-9.3],[161.5,-10.3],[160.3,-9.8]]],
Luzon:[[120.5,18.5],[122.3,18.4],[122,16],[124,13],[120.6,14],[120,16]],
Mindanao:[[122,7],[125.5,9.8],[126.5,7.5],[125.5,5.7],[124,6.7]],
Palawan:[[117.3,8.4],[119.5,11.2],[119,10.2]],
Visayas:[[122,11.5],[125.5,12.3],[125,10.2],[123,9.5]],
Australia:[[113.7,-22.5],[114.2,-26],[115.7,-31.8],[115,-34.3],[118,-35],[123.5,-33.9],[129,-31.7],[131.2,-31.5],[134.5,-33],[136,-34.9],[137.8,-33],[138,-35.6],[140.5,-38],[144,-38.5],[146.5,-39],[150,-37.3],[151,-34],[153,-31],[153.5,-27],[150.8,-23],[146.3,-19],[145.3,-15],[143.5,-14],[142.5,-10.8],[141.5,-13.5],[141,-17],[139.5,-17.5],[135.5,-15],[136.8,-12.2],[132.6,-11.5],[130,-13],[129,-15],[125.8,-14],[122.2,-18],[119,-20]],
Tasmania:[[144.7,-40.7],[148.3,-40.9],[147.8,-43.2],[146,-43.5]],
NZNorth:[[172.8,-34.5],[175.5,-37],[178.5,-37.7],[177,-39.6],[175.3,-41.6],[174.7,-39.8],[174.8,-37.5]],
NZSouth:[[172.7,-40.5],[174.3,-41.7],[172.8,-43.7],[170.7,-45.9],[168.3,-46.6],[166.5,-45.8],[170.5,-43]],
NewCaledonia:[[164,-20.2],[167,-22.3],[165.5,-21.7]],
Vanuatu:[[166.6,-15],[167.3,-15.6],[166.8,-16]],
Fiji:[[177.3,-17.5],[178.6,-17.6],[178,-18.3]],
Kiritimati:[[-157.6,2],[-157.2,1.9],[-157.5,1.6]],
Micronesia:[[[151.7,7.5],[152,7.3],[151.7,7.2]],[[158.2,7],[158.4,6.8],[158.1,6.8]]],
Maldives:[[73.2,4.4],[73.6,4.2],[73.4,3.8]],
Seychelles:[[55.3,-4.5],[55.6,-4.6],[55.4,-4.9]],
Comoros:[[43.2,-11.4],[43.5,-11.5],[43.3,-11.9]],
Mauritius:[[57.4,-20],[57.8,-20.1],[57.5,-20.5]],
Reunion:[[55.2,-20.9],[55.7,-21],[55.5,-21.4]],
Morocco:[[-5.9,35.8],[-2.2,35.1],[-1.7,34.8],[-1.2,32.1],[-3.6,31.7],[-5.5,29.9],[-8.7,28.7],[-8.7,27.7],[-13.2,27.7],[-11.5,28.3],[-9.8,29.8],[-9.8,31.5],[-8.5,33.3],[-6.8,34.1]],
WesternSahara:[[-8.7,27.7],[-8.7,27.3],[-12,26],[-12,23.4],[-13,23],[-13,21.3],[-17,21.3],[-17,23],[-14.8,25.5],[-13.2,27.7]],
Algeria:[[-2.2,35.1],[1,36.5],[5,36.9],[8.6,36.9],[8.3,34.6],[9.5,30.3],[9.9,27],[11.97,23.5],[7.5,20.9],[5.8,19.45],[3.2,19],[3.1,19.8],[1.2,20.7],[-4.8,25],[-8.7,27.3],[-8.7,28.7],[-5.5,29.9],[-3.6,31.7],[-1.2,32.1],[-1.7,34.8]],
Tunisia:[[8.6,36.9],[11,37.1],[10.6,35.7],[10.1,34.3],[11.1,33.2],[10.3,31.7],[9.5,30.3],[8.3,34.6]],
Libya:[[11.1,33.2],[15,32.3],[19,30.3],[20,32.8],[23,32.6],[25,31.6],[25,22],[25,20],[24,20],[24,19.5],[16,23.4],[15,23],[11.97,23.5],[9.9,27],[9.5,30.3],[10.3,31.7]],
Egypt:[[25,31.6],[29,30.9],[32.3,31.3],[34.2,31.3],[34.9,29.5],[34.2,27.8],[32.7,29.9],[33.8,27],[35.5,24],[36.9,22],[25,22]],
Sudan:[[25,22],[36.9,22],[37.4,21],[37.3,19],[38.6,18],[37,17],[36.4,14.4],[36.1,12.7],[34.9,10.9],[34.1,9.5],[33,10.8],[32.7,12],[28.9,9.6],[27,9.6],[24,8.7],[23.5,9],[22.9,10.9],[22.3,13.4],[22.9,15.5],[24,15.7],[24,19.5],[24,20],[25,20]],
SouthSudan:[[24,8.7],[27,9.6],[28.9,9.6],[32.7,12],[33,10.8],[34.1,9.5],[34,7.2],[35,5.4],[33.9,4.2],[30.8,3.5],[29.5,4.4],[27.5,5.1],[25,7]],
Eritrea:[[38.6,18],[39.3,15.5],[43,12.6],[42.4,12.5],[41.2,14.5],[40,14.5],[38.4,14.4],[37.5,14.2],[36.4,14.4],[37,17]],
Ethiopia:[[36.4,14.4],[37.5,14.2],[38.4,14.4],[40,14.5],[41.2,14.5],[42.4,12.5],[41.8,11],[42.9,10.9],[44,9],[48,8],[45,5],[42,4],[41,3.9],[39.8,3.9],[38,3.6],[35.9,4.6],[35,5.4],[34,7.2],[34.1,9.5],[34.9,10.9],[36.1,12.7]],
Djibouti:[[42.4,12.5],[43.2,12.6],[43.3,11.5],[42.9,10.9],[41.8,11]],
Somalia:[[43.3,11.5],[45,10.5],[48,11.2],[51.2,11.9],[50.8,9.5],[48,4.5],[44,1],[41.6,-1.7],[41,-0.9],[41,2.8],[41,3.9],[42,4],[45,5],[48,8],[44,9],[42.9,10.9]],
Kenya:[[41,3.9],[41,2.8],[41,-0.9],[41.6,-1.7],[39.2,-4.7],[37.7,-3],[33.9,-1],[33.9,0.1],[34.9,1.9],[34.5,3.7],[33.9,4.2],[35,5.4],[35.9,4.6],[38,3.6],[39.8,3.9]],
Uganda:[[30.8,3.5],[33.9,4.2],[34.5,3.7],[34.9,1.9],[33.9,0.1],[33.9,-1],[30.5,-1],[29.7,-1.4],[29.7,0],[31.2,2.2]],
Rwanda:[[29.7,-1.4],[30.5,-1],[30.8,-2.3],[29,-2.8]],
Burundi:[[29,-2.8],[30.8,-2.3],[30.8,-3.3],[29.5,-4.4]],
Tanzania:[[33.9,-1],[37.7,-3],[39.2,-4.7],[38.8,-6.5],[39.5,-8],[40.4,-10.5],[38,-11.3],[34.9,-11.6],[34.6,-9.6],[33,-9.4],[30.7,-8.2],[29.4,-6],[29.5,-4.4],[30.8,-3.3],[30.8,-2.3],[30.5,-1]],
DRC:[[30.8,3.5],[31.2,2.2],[29.7,0],[29.7,-1.4],[29,-2.8],[29.5,-4.4],[29.4,-6],[30.7,-8.2],[28.7,-8.5],[28.4,-9.3],[28.7,-11.7],[29.8,-12.2],[29.8,-13.4],[28,-12.4],[27,-11.7],[24,-11],[22,-11],[21.8,-7.2],[19.5,-7],[17.6,-8],[16.3,-5.9],[12.3,-6],[12.2,-5.8],[13,-4.7],[15.2,-4.3],[16.3,-2],[17.7,-0.5],[18,2],[18.6,3.5],[19.5,5.1],[22.5,4.2],[25,5],[27.5,5.1],[29.5,4.4]],
Congo:[[12.2,-5.8],[11.1,-3.9],[11.8,-3.5],[14.2,-2.4],[14.4,-2],[14,1.4],[13.3,2.2],[16,2],[16.2,3.5],[18.6,3.5],[18,2],[17.7,-0.5],[16.3,-2],[15.2,-4.3],[13,-4.7]],
Gabon:[[9.3,-1],[11.1,-3.9],[11.8,-3.5],[14.2,-2.4],[14.4,-2],[14,1.4],[13.3,2.2],[11.3,2.2],[11.3,1],[9.7,1],[9.6,0.5]],
EqGuinea:[[9.7,1],[11.3,1],[11.3,2.2],[9.8,2.2]],
Cameroon:[[9.8,2.2],[11.3,2.2],[13.3,2.2],[16,2],[16.2,3.5],[15,5.5],[14.5,6.2],[15.5,7.5],[15.2,10],[14.2,12.5],[14.1,13],[14,11.3],[13.2,9.5],[11.8,7],[10.2,6.9],[8.8,4.9],[8.5,4.7],[9.7,3.9]],
Nigeria:[[2.7,6.4],[4.5,6.3],[5.5,4.9],[7,4.4],[8.5,4.7],[8.8,4.9],[10.2,6.9],[11.8,7],[13.2,9.5],[14,11.3],[14.1,13],[13.6,13.7],[12,13.1],[9,12.8],[7,13],[4,13.5],[3.7,11.7],[3.6,10],[2.7,8.5]],
Benin:[[1.6,6.2],[2.7,6.4],[2.7,8.5],[3.6,10],[3.7,11.7],[2.4,11.9],[0.9,11],[1.6,9]],
Togo:[[1.2,6.1],[1.6,6.2],[1.6,9],[0.9,11],[0,11],[0.5,8.5],[0.5,7]],
Ghana:[[-3.1,5.1],[-2,4.8],[1.2,6.1],[0.5,7],[0.5,8.5],[0,11],[-2.9,11],[-2.7,9],[-3.2,6.5]],
Burkina:[[-5.5,10.4],[-2.9,11],[0,11],[0.9,11],[2.4,11.9],[2,12.8],[0.9,13],[0.2,14.9],[-2,14.3],[-3.5,13.4],[-4.5,12]],
Ivory:[[-7.5,4.4],[-3.1,5.1],[-3.2,6.5],[-2.7,9],[-2.9,11],[-5.5,10.4],[-8,10.2],[-8.3,7.6],[-7.5,5.8]],
Liberia:[[-11.5,6.9],[-7.5,4.4],[-7.5,5.8],[-8.3,7.6],[-9.5,8.4],[-10.3,8.4]],
SierraLeone:[[-13.3,8.5],[-11.5,6.9],[-10.3,8.4],[-10.7,9.3],[-11.2,10],[-12.5,9.9]],
Guinea:[[-15,10.9],[-13.3,8.5],[-12.5,9.9],[-11.2,10],[-10.7,9.3],[-10.3,8.4],[-9.5,8.4],[-8.3,7.6],[-8,10.2],[-8.3,11.2],[-9.5,12.4],[-11.4,12.4],[-13.7,12.6]],
GuineaBissau:[[-16.7,12.4],[-15,10.9],[-13.7,12.6]],
Senegal:[[-17.5,14.7],[-16.7,12.4],[-13.7,12.6],[-11.4,12.4],[-12.2,14.7],[-14,16.6],[-16.5,16.2]],
Mauritania:[[-17,21.3],[-13,21.3],[-13,23],[-12,23.4],[-12,26],[-8.7,27.3],[-4.8,25],[-6.5,25],[-5.5,15.5],[-9.5,15.5],[-12.2,14.7],[-14,16.6],[-16.5,16.2],[-16,19]],
Mali:[[-4.8,25],[1.2,20.7],[3.1,19.8],[3.2,19],[4.2,19.1],[4.2,16.8],[3.5,15.4],[0.2,14.9],[-2,14.3],[-3.5,13.4],[-4.5,12],[-5.5,10.4],[-8,10.2],[-8.3,11.2],[-9.5,12.4],[-11.4,12.4],[-12.2,14.7],[-9.5,15.5],[-5.5,15.5],[-6.5,25]],
Niger:[[11.97,23.5],[15,23],[16,20.5],[15.5,16.9],[13.5,14.4],[13.6,13.7],[12,13.1],[9,12.8],[7,13],[4,13.5],[3.7,11.7],[2.4,11.9],[2,12.8],[0.9,13],[0.2,14.9],[3.5,15.4],[4.2,16.8],[4.2,19.1],[3.2,19],[5.8,19.45],[7.5,20.9]],
Chad:[[15,23],[16,23.4],[24,19.5],[24,15.7],[22.9,15.5],[22.3,13.4],[22.9,10.9],[21.7,10.5],[18.9,8.9],[15.5,7.5],[15.2,10],[14.2,12.5],[14.1,13],[13.6,13.7],[13.5,14.4],[15.5,16.9],[16,20.5]],
CAR:[[14.5,6.2],[15,5.5],[16.2,3.5],[18.6,3.5],[19.5,5.1],[22.5,4.2],[25,5],[27.5,5.1],[25,7],[24,8.7],[23.5,9],[22.9,10.9],[21.7,10.5],[18.9,8.9],[15.5,7.5]],
Angola:[[12.3,-6],[16.3,-5.9],[17.6,-8],[19.5,-7],[21.8,-7.2],[22,-11],[24,-11],[24,-13],[22,-13],[22,-16.2],[23.4,-17.6],[21,-18],[18.5,-17.4],[14,-17.4],[11.8,-17.3],[12.4,-13.5],[13.8,-11],[13,-8.5]],
Zambia:[[22,-13],[24,-13],[24,-11],[27,-11.7],[28,-12.4],[29.8,-13.4],[29.8,-12.2],[28.7,-11.7],[28.4,-9.3],[28.7,-8.5],[30.7,-8.2],[33,-9.4],[33.6,-11],[33.2,-14],[30.3,-15.5],[28.9,-15.9],[27,-17.9],[25.3,-17.8],[23.4,-17.6],[22,-16.2]],
Malawi:[[33,-9.4],[34.6,-9.6],[34.9,-11.6],[35.2,-14.3],[35.3,-17],[34.3,-15.5],[33.2,-14],[33.6,-11]],
Mozambique:[[40.4,-10.5],[40.8,-14.5],[36,-18.9],[34.9,-20],[35.5,-24],[32.9,-25.8],[32.9,-26.8],[32,-26],[32,-24.5],[31.3,-22.4],[32.5,-21],[33,-18],[32.9,-16.5],[30.3,-15.5],[33.2,-14],[34.3,-15.5],[35.3,-17],[35.2,-14.3],[34.9,-11.6],[38,-11.3]],
Zimbabwe:[[25.3,-17.8],[27,-17.9],[28.9,-15.9],[30.3,-15.5],[32.9,-16.5],[33,-18],[32.5,-21],[31.3,-22.4],[29.4,-22.2],[27.5,-20.5],[26,-18.5]],
Namibia:[[11.8,-17.3],[14,-17.4],[18.5,-17.4],[21,-18],[23.4,-17.6],[25.3,-17.8],[23.4,-18.4],[21,-18.3],[21,-22],[20,-22],[20,-28.4],[17,-28.9],[16.5,-28.6],[14.5,-22.5]],
Botswana:[[21,-18.3],[23.4,-18.4],[25.3,-17.8],[26,-18.5],[27.5,-20.5],[29.4,-22.2],[27,-23.7],[25.5,-25.7],[23,-25.3],[20.7,-26.9],[20,-24.8],[20,-22],[21,-22]],
SouthAfrica:[[16.5,-28.6],[17,-28.9],[20,-28.4],[20,-24.8],[20.7,-26.9],[23,-25.3],[25.5,-25.7],[27,-23.7],[29.4,-22.2],[31.3,-22.4],[32,-24.5],[32,-26],[32.9,-26.8],[32.4,-28.5],[30.8,-30.5],[28,-33],[25.7,-34],[22.5,-34.1],[20,-34.8],[18.4,-34.2],[18.2,-31.8]],
Lesotho:[[27.2,-29.6],[28.5,-28.7],[29.4,-29.5],[28,-30.6]],
Eswatini:[[30.9,-26.8],[31.4,-25.8],[32,-26.2],[32,-27.2]],
Madagascar:[[49.3,-12],[50.4,-15.5],[49.5,-18],[47.2,-25],[45.2,-25.6],[43.7,-23.5],[43.3,-21.5],[44.4,-19.8],[44,-17],[46.3,-15.7],[47.9,-14]]
};

const color=d3.scaleThreshold().domain(legendBreaks).range(legendColors);
const robX=[1,.9986,.9954,.99,.9822,.973,.96,.9427,.9216,.8962,.8679,.835,.7986,.7597,.7186,.6732,.6213,.5722,.5322];
const robY=[0,.062,.124,.186,.248,.31,.372,.434,.4958,.5571,.6176,.6769,.7346,.7903,.8435,.8936,.9394,.9761,1];
function robinsonRaw(l,p){
  const a=Math.abs(p)*180/Math.PI/5, i=Math.min(17,Math.floor(a)), t=a-i;
  const X=robX[i]+(robX[i+1]-robX[i])*t, Y=robY[i]+(robY[i+1]-robY[i])*t;
  return [.8487*X*l, 1.3523*Y*(p<0?-1:1)];
}
const projection=d3.geoProjection(robinsonRaw).scale(156).translate([363.5,301]);
const path=d3.geoPath(projection);
function fix(ring){
  const r=ring.concat([ring[0]]);
  return d3.geoArea({type:"Polygon",coordinates:[r]})>2*Math.PI?r.slice().reverse():r;
}
const features=Object.keys(outlines).map(name=>{
  const o=outlines[name];
  const rings=typeof o[0][0]==="number"?[o]:o;
  return {type:"Feature",properties:{name,share:shares[name]},geometry:{type:"MultiPolygon",coordinates:rings.map(r=>[fix(r)])}};
});
const svg=d3.select("#c");
const defs=svg.append("defs");
const pat=defs.append("pattern").attr("id","nodata").attr("patternUnits","userSpaceOnUse").attr("width",5).attr("height",5).attr("patternTransform","rotate(-45)");
pat.append("rect").attr("width",5).attr("height",5).attr("fill","#fff");
pat.append("line").attr("x1",0).attr("y1",2).attr("x2",5).attr("y2",2).attr("stroke","#dcdcdc").attr("stroke-width",1.4);

svg.append("g").selectAll("path").data(features).join("path")
  .attr("d",path)
  .attr("fill",d=>d.properties.share==null?"url(#nodata)":color(d.properties.share))
  .attr("stroke","#a3a3a3").attr("stroke-width",.5).attr("stroke-linejoin","round");

// header
const title=svg.append("text").attr("x",16).attr("y",41).attr("font-size",28).attr("font-weight",700).attr("fill","#373737")
  .style("font-family","'Liberation Serif',serif").text(titleText);
const titleWidth=title.node().getComputedTextLength();
title.attr("font-size",28*424/titleWidth);
svg.append("text").attr("x",447).attr("y",40).attr("font-size",18).attr("fill","#6e6e6e").text(yearText);
const logo=svg.append("g");
logo.append("rect").attr("x",769).attr("y",16).attr("width",65).attr("height",36).attr("fill","#002147");
logo.append("rect").attr("x",769).attr("y",49.5).attr("width",65).attr("height",2.5).attr("fill","#ce261e");
logo.append("text").attr("x",801.5).attr("y",30).attr("text-anchor","middle").attr("font-size",11.6).attr("font-weight",700).attr("fill","#fff").text("Our World");
logo.append("text").attr("x",801.5).attr("y",44).attr("text-anchor","middle").attr("font-size",11.6).attr("font-weight",700).attr("fill","#fff").text("in Data");

// legend
const lx=d3.scaleLinear().domain([44,56]).range([283.3,633.7]);
const bands=d3.range(legendColors.length).map(i=>({c:legendColors[i],a:i?legendBreaks[i-1]:44,b:i<legendBreaks.length?legendBreaks[i]:56}));
const ly0=517,ly1=528,tip=4;
const leg=svg.append("g");
leg.selectAll("path").data(bands).join("path").attr("d",(d,i)=>{
  const x0=lx(d.a),x1=lx(d.b),m=(ly0+ly1)/2;
  if(i===0) return `M${x0},${m}L${x0+tip},${ly0}H${x1}V${ly1}H${x0+tip}Z`;
  if(i===bands.length-1) return `M${x0},${ly0}H${x1-tip}L${x1},${m}L${x1-tip},${ly1}H${x0}Z`;
  return `M${x0},${ly0}H${x1}V${ly1}H${x0}Z`;
}).attr("fill",d=>d.c).attr("stroke","#999").attr("stroke-width",.4);
leg.selectAll("text").data(legendBreaks).join("text").attr("x",d=>lx(d)).attr("y",510).attr("text-anchor","middle").attr("font-size",13).attr("fill","#5b5b5b").text(d=>d+"%");
leg.append("rect").attr("x",216).attr("y",517).attr("width",47).attr("height",11).attr("fill","url(#nodata)").attr("stroke","#c4c4c4").attr("stroke-width",.6);
leg.append("text").attr("x",239.5).attr("y",510).attr("text-anchor","middle").attr("font-size",13).attr("fill","#5b5b5b").text("No data");

// footer
const src=svg.append("text").attr("x",16).attr("y",561).attr("font-size",13).attr("fill","#5b5b5b");
src.append("tspan").attr("font-weight",700).text("Data source:");
src.append("tspan").text(" United Nations Population Division and World Bank (2026)");
svg.append("text").attr("x",831).attr("y",561).attr("text-anchor","end").attr("font-size",13).attr("fill","#5b5b5b").text("OurWorldinData.org/gender-ratio | CC BY");
const note=svg.append("text").attr("x",16).attr("y",581).attr("font-size",13).attr("fill","#5b5b5b");
note.append("tspan").attr("font-weight",700).text("Note:");
note.append("tspan").text(" Population is based on the de facto definition of population, which counts all residents regardless of legal status or citizenship.");
</script></body></html>
